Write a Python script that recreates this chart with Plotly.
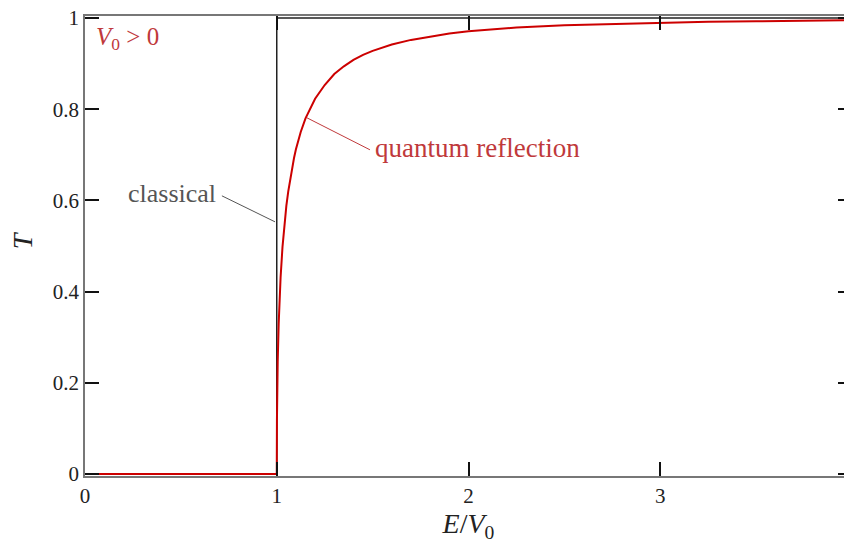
import plotly.graph_objects as go

# Classical step transmission
classical_x = [0, 1, 1, 4]
classical_T = [0, 0, 1, 1]

# Quantum transmission
quantum_x = [0, 1.0, 1.001, 1.002, 1.005, 1.01, 1.015, 1.02, 1.03, 1.04, 1.05, 1.06, 1.075,
             1.09, 1.1, 1.125, 1.15, 1.175, 1.2, 1.25, 1.3, 1.35, 1.4, 1.45, 1.5, 1.6,
             1.7, 1.8, 1.9, 2.0, 2.25, 2.5, 2.75, 3.0, 3.25, 3.5, 3.75, 4.0]
quantum_T = [0, 0.0, 0.118, 0.164, 0.246, 0.329, 0.387, 0.431, 0.498, 0.548, 0.588, 0.620, 0.661,
             0.693, 0.712, 0.750, 0.780, 0.803, 0.823, 0.853, 0.877, 0.894, 0.908, 0.919, 0.928, 0.942,
             0.952, 0.959, 0.966, 0.971, 0.979, 0.984, 0.987, 0.990, 0.992, 0.993, 0.994, 0.995]

x_ticks = [0, 1, 2, 3, 4]
x_tick_labels = ["0", "1", "2", "3", "4"]
y_ticks = [0, 0.2, 0.4, 0.6, 0.8, 1]
y_tick_labels = ["0", "0.2", "0.4", "0.6", "0.8", "1"]

FONT = "Liberation Serif"
RED_LINE = "#cc0000"
RED_TEXT = "#c0393b"
GRAY_TEXT = "#555555"

fig = go.Figure()
fig.add_trace(go.Scatter(x=classical_x, y=classical_T, mode="lines",
                         line=dict(color="#222222", width=1.5), hoverinfo="skip",
                         cliponaxis=False))
fig.add_trace(go.Scatter(x=quantum_x, y=quantum_T, mode="lines",
                         line=dict(color=RED_LINE, width=2), hoverinfo="skip"))

axis_common = dict(showgrid=False, zeroline=False, showline=True, linecolor="#777777",
                   linewidth=1.6, mirror="ticks", ticks="inside", ticklen=14,
                   tickcolor="#111111", tickwidth=1.6, automargin=False,
                   ticklabeloverflow="allow",
                   tickfont=dict(family=FONT, size=21, color="#222222"))

fig.update_xaxes(range=[0, 4], tickvals=x_ticks, ticktext=x_tick_labels,
                 title=dict(text="<i>E</i>/<i>V</i><sub>0</sub>",
                            font=dict(family=FONT, size=28, color="#222222"), standoff=6),
                 **axis_common)
fig.update_yaxes(range=[-0.0044, 1.0044], tickvals=y_ticks, ticktext=y_tick_labels,
                 **axis_common)

# y-axis title as a rotated annotation for exact placement
fig.add_annotation(xref="paper", yref="paper", x=-0.082, y=0.513, text="<i>T</i>",
                   showarrow=False, textangle=-90, xanchor="center", yanchor="middle",
                   font=dict(family=FONT, size=28, color="#222222"))

# Annotation leader lines
fig.add_shape(type="line", x0=1.158, y0=0.781, x1=1.486, y1=0.711,
              line=dict(color=RED_TEXT, width=1))
fig.add_shape(type="line", x0=0.714, y0=0.610, x1=0.991, y1=0.553,
              line=dict(color=GRAY_TEXT, width=1))

fig.add_annotation(x=1.503, y=0.715, text="quantum reflection", showarrow=False,
                   xanchor="left", yanchor="middle",
                   font=dict(family=FONT, size=27, color=RED_TEXT))
fig.add_annotation(x=0.694, y=0.616, text="classical", showarrow=False,
                   xanchor="right", yanchor="middle",
                   font=dict(family=FONT, size=26, color=GRAY_TEXT))
fig.add_annotation(x=0.045, y=0.956, text="<i>V</i><sub>0</sub> > 0", showarrow=False,
                   xanchor="left", yanchor="middle",
                   font=dict(family=FONT, size=25, color=RED_TEXT))

# The page body adds an 8px margin, so the figure is sized to fit the window
fig.update_layout(width=844, height=536, showlegend=False,
                  plot_bgcolor="white", paper_bgcolor="white",
                  margin=dict(l=77, r=0, t=8, b=68))

fig.write_html("out.html")
